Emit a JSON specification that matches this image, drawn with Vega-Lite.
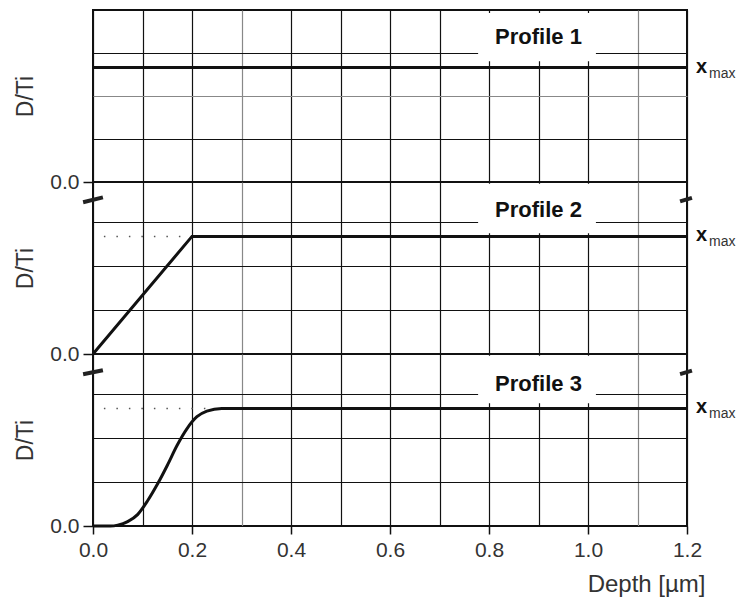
{
  "$schema": "https://vega.github.io/schema/vega-lite/v6.json",
  "padding": {"left": 13, "top": 9, "right": 0, "bottom": 0},
  "spacing": 0,
  "bounds": "flush",
  "config": {
    "font": "Liberation Sans",
    "view": {"stroke": "#111", "strokeWidth": 2},
    "concat": {"spacing": 0},
    "axis": {"labelFlush": false, "labelOverlap": false, "gridWidth": 1.2}
  },
  "datasets": {
    "p1": [{"depth": 0, "ratio": 2.66}, {"depth": 1.2, "ratio": 2.66}],
    "p2": [{"depth": 0, "ratio": 0}, {"depth": 0.2, "ratio": 2.68}, {"depth": 1.2, "ratio": 2.68}],
    "p3": [
      {"depth": 0, "ratio": 0}, {"depth": 0.035, "ratio": 0}, {"depth": 0.05, "ratio": 0.02},
      {"depth": 0.07, "ratio": 0.1}, {"depth": 0.09, "ratio": 0.26}, {"depth": 0.11, "ratio": 0.57},
      {"depth": 0.13, "ratio": 0.95}, {"depth": 0.15, "ratio": 1.38}, {"depth": 0.17, "ratio": 1.84},
      {"depth": 0.19, "ratio": 2.22}, {"depth": 0.21, "ratio": 2.49}, {"depth": 0.23, "ratio": 2.62},
      {"depth": 0.26, "ratio": 2.68}, {"depth": 1.2, "ratio": 2.68}
    ],
    "d2": [{"depth": 0.022, "ratio": 2.68}, {"depth": 0.2, "ratio": 2.68}],
    "d3": [{"depth": 0.022, "ratio": 2.68}, {"depth": 0.23, "ratio": 2.68}]
  },
  "vconcat": [
    {
      "width": 594, "height": 172,
      "layer": [
        {
          "data": {"name": "p1"},
          "mark": {"type": "line", "color": "#111", "strokeWidth": 3},
          "encoding": {
            "x": {"field": "depth", "type": "quantitative", "scale": {"domain": [0, 1.2], "nice": false},
              "axis": {"values": [0, 0.1, 0.2, 0.3, 0.4, 0.5, 0.6, 0.7, 0.8, 0.9, 1.0, 1.1, 1.2], "grid": true,
                "gridColor": {"condition": {"test": "abs(datum.value-0.3)<0.01 || abs(datum.value-1.1)<0.01", "value": "#888"}, "value": "#111"},
                "labels": false, "ticks": false, "domain": false, "title": null}},
            "y": {"field": "ratio", "type": "quantitative", "scale": {"domain": [0, 4], "nice": false},
              "axis": {"values": [0, 1, 2, 3], "grid": true,
                "gridColor": {"condition": {"test": "datum.value == 2", "value": "#888"}, "value": "#111"},
                "labelExpr": "datum.value == 0 ? '0.0' : ''", "labelFontSize": 21, "labelColor": "#333", "labelPadding": 4,
                "tickSize": 10, "tickColor": "#111", "tickWidth": 1.5,
                "tickOpacity": {"condition": {"test": "datum.value == 0", "value": 1}, "value": 0},
                "domain": false, "title": "D/Ti", "titleFontSize": 23, "titleFontWeight": "normal", "titleColor": "#333",
                "titleX": -61, "titleBaseline": "alphabetic"}}
          }
        },
        {
          "data": {"values": [{}]},
          "mark": {"type": "rect", "fill": "white"},
          "encoding": {"x": {"datum": 0.778}, "x2": {"datum": 1.016}, "y": {"datum": 3.93}, "y2": {"datum": 2.81}}
        },
        {
          "data": {"name": "p1"},
          "mark": {"type": "line", "color": "#111", "strokeWidth": 3},
          "encoding": {"x": {"field": "depth", "type": "quantitative"}, "y": {"field": "ratio", "type": "quantitative"}}
        },
        {
          "data": {"values": [{}]},
          "mark": {"type": "text", "text": "Profile 1", "fontSize": 22, "fontWeight": "bold", "align": "center", "baseline": "alphabetic", "color": "#111"},
          "encoding": {"x": {"datum": 0.9}, "y": {"datum": 3.21}}
        },
        {
          "data": {"values": [{}]},
          "mark": {"type": "text", "text": "x", "fontSize": 20, "fontWeight": "bold", "align": "left", "baseline": "alphabetic", "dx": 9, "dy": 5, "color": "#111"},
          "encoding": {"x": {"datum": 1.2}, "y": {"datum": 2.66}}
        },
        {
          "data": {"values": [{}]},
          "mark": {"type": "text", "text": "max", "fontSize": 14, "align": "left", "baseline": "alphabetic", "dx": 22, "dy": 10, "color": "#333"},
          "encoding": {"x": {"datum": 1.2}, "y": {"datum": 2.66}}
        }
      ]
    },
    {
      "width": 594, "height": 172,
      "layer": [
        {
          "data": {"name": "d2"},
          "mark": {"type": "line", "color": "#555", "strokeWidth": 1.5, "strokeDash": [1.5, 11]},
          "encoding": {
            "x": {"field": "depth", "type": "quantitative", "scale": {"domain": [0, 1.2], "nice": false},
              "axis": {"values": [0, 0.1, 0.2, 0.3, 0.4, 0.5, 0.6, 0.7, 0.8, 0.9, 1.0, 1.1, 1.2], "grid": true,
                "gridColor": {"condition": {"test": "abs(datum.value-0.3)<0.01 || abs(datum.value-1.1)<0.01", "value": "#888"}, "value": "#111"},
                "labels": false, "ticks": false, "domain": false, "title": null}},
            "y": {"field": "ratio", "type": "quantitative", "scale": {"domain": [0, 3.92], "nice": false},
              "axis": {"values": [0, 1, 2, 3], "grid": true, "gridColor": "#111",
                "labelExpr": "datum.value == 0 ? '0.0' : ''", "labelFontSize": 21, "labelColor": "#333", "labelPadding": 4,
                "tickSize": 10, "tickColor": "#111", "tickWidth": 1.5,
                "tickOpacity": {"condition": {"test": "datum.value == 0", "value": 1}, "value": 0},
                "domain": false, "title": "D/Ti", "titleFontSize": 23, "titleFontWeight": "normal", "titleColor": "#333",
                "titleX": -61, "titleBaseline": "alphabetic"}}
          }
        },
        {
          "data": {"values": [{}]},
          "mark": {"type": "rect", "fill": "white"},
          "encoding": {"x": {"datum": 0.778}, "x2": {"datum": 1.016}, "y": {"datum": 3.88}, "y2": {"datum": 2.75}}
        },
        {
          "data": {"name": "p2"},
          "mark": {"type": "line", "color": "#111", "strokeWidth": 3},
          "encoding": {"x": {"field": "depth", "type": "quantitative"}, "y": {"field": "ratio", "type": "quantitative"}}
        },
        {
          "data": {"values": [{}]},
          "mark": {"type": "rule", "color": "#222", "strokeWidth": 4},
          "encoding": {"x": {"datum": -0.02}, "y": {"datum": 3.46}, "x2": {"datum": 0.02}, "y2": {"datum": 3.57}}
        },
        {
          "data": {"values": [{}]},
          "mark": {"type": "rule", "color": "#222", "strokeWidth": 4},
          "encoding": {"x": {"datum": 1.186}, "y": {"datum": 3.48}, "x2": {"datum": 1.21}, "y2": {"datum": 3.56}}
        },
        {
          "data": {"values": [{}]},
          "mark": {"type": "text", "text": "Profile 2", "fontSize": 22, "fontWeight": "bold", "align": "center", "baseline": "alphabetic", "color": "#111"},
          "encoding": {"x": {"datum": 0.9}, "y": {"datum": 3.12}}
        },
        {
          "data": {"values": [{}]},
          "mark": {"type": "text", "text": "x", "fontSize": 20, "fontWeight": "bold", "align": "left", "baseline": "alphabetic", "dx": 9, "dy": 5, "color": "#111"},
          "encoding": {"x": {"datum": 1.2}, "y": {"datum": 2.68}}
        },
        {
          "data": {"values": [{}]},
          "mark": {"type": "text", "text": "max", "fontSize": 14, "align": "left", "baseline": "alphabetic", "dx": 22, "dy": 10, "color": "#333"},
          "encoding": {"x": {"datum": 1.2}, "y": {"datum": 2.68}}
        }
      ]
    },
    {
      "width": 594, "height": 172,
      "layer": [
        {
          "data": {"name": "d3"},
          "mark": {"type": "line", "color": "#555", "strokeWidth": 1.5, "strokeDash": [1.5, 11]},
          "encoding": {
            "x": {"field": "depth", "type": "quantitative", "scale": {"domain": [0, 1.2], "nice": false},
              "axis": {"values": [0, 0.1, 0.2, 0.3, 0.4, 0.5, 0.6, 0.7, 0.8, 0.9, 1.0, 1.1, 1.2], "grid": true,
                "gridColor": {"condition": {"test": "abs(datum.value-0.3)<0.01 || abs(datum.value-1.1)<0.01", "value": "#888"}, "value": "#111"},
                "labelExpr": "abs(datum.value*10 - 2*round(datum.value*5)) < 0.01 ? format(datum.value, '.1f') : ''",
                "labelFontSize": 21, "labelColor": "#333", "labelPadding": 5,
                "tickSize": 8, "tickColor": "#111", "tickWidth": 1.5,
                "tickOpacity": {"condition": {"test": "abs(datum.value*10 - 2*round(datum.value*5)) < 0.01", "value": 1}, "value": 0},
                "domain": false, "title": "Depth [µm]", "titleFontSize": 24, "titleFontWeight": "normal", "titleColor": "#333",
                "titleX": 612, "titleY": 65, "titleAlign": "right", "titleBaseline": "alphabetic", "titleAnchor": null}},
            "y": {"field": "ratio", "type": "quantitative", "scale": {"domain": [0, 3.92], "nice": false},
              "axis": {"values": [0, 1, 2, 3], "grid": true, "gridColor": "#111",
                "labelExpr": "datum.value == 0 ? '0.0' : ''", "labelFontSize": 21, "labelColor": "#333", "labelPadding": 4,
                "tickSize": 10, "tickColor": "#111", "tickWidth": 1.5,
                "tickOpacity": {"condition": {"test": "datum.value == 0", "value": 1}, "value": 0},
                "domain": false, "title": "D/Ti", "titleFontSize": 23, "titleFontWeight": "normal", "titleColor": "#333",
                "titleX": -61, "titleBaseline": "alphabetic"}}
          }
        },
        {
          "data": {"values": [{}]},
          "mark": {"type": "rect", "fill": "white"},
          "encoding": {"x": {"datum": 0.778}, "x2": {"datum": 1.016}, "y": {"datum": 3.88}, "y2": {"datum": 2.8}}
        },
        {
          "data": {"name": "p3"},
          "mark": {"type": "line", "color": "#111", "strokeWidth": 3, "interpolate": "monotone"},
          "encoding": {"x": {"field": "depth", "type": "quantitative"}, "y": {"field": "ratio", "type": "quantitative"}}
        },
        {
          "data": {"values": [{}]},
          "mark": {"type": "rule", "color": "#222", "strokeWidth": 4},
          "encoding": {"x": {"datum": -0.02}, "y": {"datum": 3.46}, "x2": {"datum": 0.02}, "y2": {"datum": 3.55}}
        },
        {
          "data": {"values": [{}]},
          "mark": {"type": "rule", "color": "#222", "strokeWidth": 4},
          "encoding": {"x": {"datum": 1.186}, "y": {"datum": 3.46}, "x2": {"datum": 1.21}, "y2": {"datum": 3.54}}
        },
        {
          "data": {"values": [{}]},
          "mark": {"type": "text", "text": "Profile 3", "fontSize": 22, "fontWeight": "bold", "align": "center", "baseline": "alphabetic", "color": "#111"},
          "encoding": {"x": {"datum": 0.9}, "y": {"datum": 3.07}}
        },
        {
          "data": {"values": [{}]},
          "mark": {"type": "text", "text": "x", "fontSize": 20, "fontWeight": "bold", "align": "left", "baseline": "alphabetic", "dx": 9, "dy": 5, "color": "#111"},
          "encoding": {"x": {"datum": 1.2}, "y": {"datum": 2.68}}
        },
        {
          "data": {"values": [{}]},
          "mark": {"type": "text", "text": "max", "fontSize": 14, "align": "left", "baseline": "alphabetic", "dx": 22, "dy": 10, "color": "#333"},
          "encoding": {"x": {"datum": 1.2}, "y": {"datum": 2.68}}
        }
      ]
    }
  ]
}
